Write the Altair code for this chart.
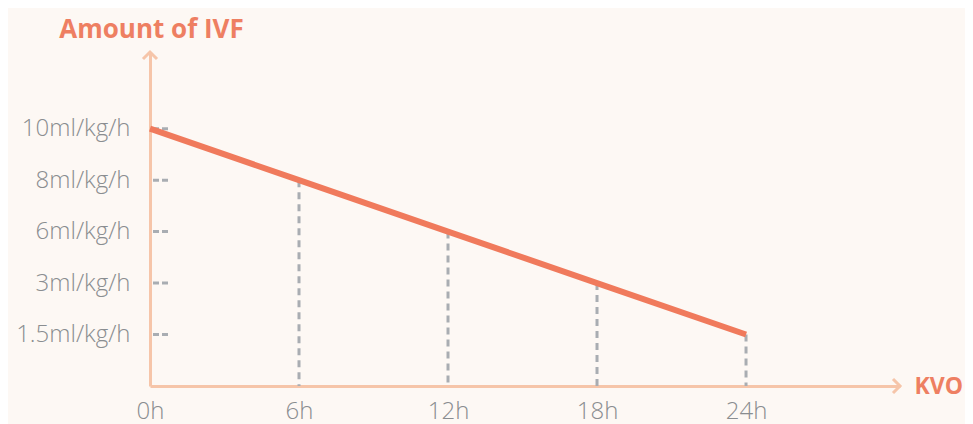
import altair as alt
import pandas as pd

# ---- data ----
hours = [0, 6, 12, 18, 24]
hour_labels = ["0h", "6h", "12h", "18h", "24h"]
rate_labels = ["10ml/kg/h", "8ml/kg/h", "6ml/kg/h", "3ml/kg/h", "1.5ml/kg/h"]
rate_rank = [5, 4, 3, 2, 1]  # evenly spaced positions on the (non-linear) rate axis

X_MAX = 30.2
Y_MAX = 6.49

BG = "#fdf8f4"
ORANGE = "#f07a5c"
TITLE_C = "#ee7f62"
AXIS_C = "#f6c5a9"
GRAY = "#a9adb2"
LABEL_C = "#8a8d90"
FONT = "Open Sans"

df = pd.DataFrame({"hour": hours, "rank": rate_rank, "rate": rate_labels, "hlabel": hour_labels})
drops = df[df["hour"] > 0]
arrows = pd.DataFrame({
    "hour": [0, X_MAX],
    "rank": [Y_MAX, 0],
    "dir": ["up", "right"],
})

label_arr = "[" + ",".join(["''"] + [f"'{r}'" for r in reversed(rate_labels)]) + "]"

x_scale = alt.Scale(domain=[0, X_MAX], nice=False, zero=False)
y_scale = alt.Scale(domain=[0, Y_MAX], nice=False, zero=False)

x_axis = alt.Axis(
    values=hours, labelExpr="datum.value + 'h'", grid=False, ticks=False, tickSize=0,
    domainColor=AXIS_C, domainWidth=3, labelFont=FONT, labelFontSize=24, labelFontWeight=300,
    labelColor=LABEL_C, labelPadding=13, labelFlush=False,
    title="KVO", titleFont=FONT, titleFontSize=23, titleFontWeight=700, titleColor=TITLE_C,
    titleX=764, titleY=0, titleAlign="left", titleBaseline="middle", titleAnchor="start",
)
y_axis = alt.Axis(
    values=[1, 2, 3, 4, 5], labelExpr=label_arr + "[datum.value]", grid=False, ticks=False, tickSize=0,
    domainColor=AXIS_C, domainWidth=3, labelFont=FONT, labelFontSize=24, labelFontWeight=300,
    labelColor=LABEL_C, labelPadding=20, labelFlush=False,
    title="Amount of IVF", titleFont=FONT, titleFontSize=26, titleFontWeight=700, titleColor=TITLE_C,
    titleAngle=0, titleX=1, titleY=-23, titleAlign="center", titleBaseline="middle",
)

base = alt.Chart(df)

ticks = base.mark_rule(color=GRAY, strokeWidth=3, strokeDash=[6, 3]).encode(
    x=alt.value(3), x2=alt.value(18),
    y=alt.Y("rank:Q", scale=y_scale, axis=y_axis),
)

drop_lines = alt.Chart(drops).mark_rule(color=GRAY, strokeWidth=3, strokeDash=[7, 5]).encode(
    x=alt.X("hour:Q", scale=x_scale, axis=x_axis),
    y=alt.Y("rank:Q", scale=y_scale),
    y2=alt.datum(0),
)

line = base.mark_line(color=ORANGE, strokeWidth=6, strokeCap="butt").encode(
    x=alt.X("hour:Q", scale=x_scale, axis=x_axis),
    y=alt.Y("rank:Q", scale=y_scale, axis=y_axis),
)

up_arrow = alt.Chart(arrows[arrows["dir"] == "up"]).mark_point(
    shape="M-1,1L0,0L1,1", size=196, filled=False, stroke=AXIS_C, strokeWidth=3, opacity=1
).encode(x=alt.X("hour:Q", scale=x_scale), y=alt.Y("rank:Q", scale=y_scale))

right_arrow = alt.Chart(arrows[arrows["dir"] == "right"]).mark_point(
    shape="M-1,-1L0,0L-1,1", size=196, filled=False, stroke=AXIS_C, strokeWidth=3, opacity=1
).encode(x=alt.X("hour:Q", scale=x_scale), y=alt.Y("rank:Q", scale=y_scale))

chart = alt.layer(ticks, drop_lines, line, up_arrow, right_arrow).properties(
    width=750, height=334,
    autosize=alt.AutoSizeParams(type="none"),
    padding={"left": 142, "top": 44, "right": 65, "bottom": 38},
    background=BG,
).configure_view(stroke=None)

chart.save("out.html", embed_options={"renderer": "svg", "actions": False})
